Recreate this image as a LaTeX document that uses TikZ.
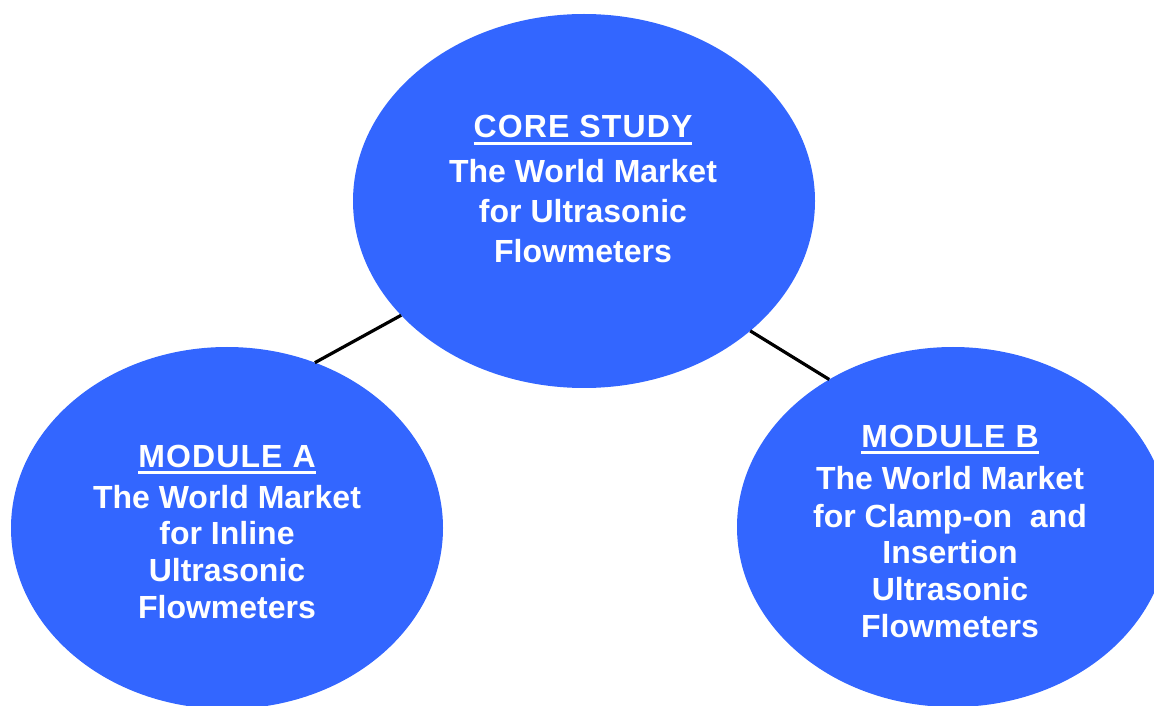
\documentclass[tikz,border=0pt]{standalone}
\usepackage{fontspec}
\setmainfont{Liberation Sans}
\usetikzlibrary{shapes.geometric}
\definecolor{bubble}{HTML}{3366FF}
\newcommand\hdrline[1]{\setbox0\hbox{\addfontfeature{LetterSpace=3.5}#1}\rlap{\raisebox{-6.6pt}{\rule{\wd0}{2.3pt}}}\box0}
\begin{document}
\begin{tikzpicture}[x=1pt,y=1pt,
  bubble/.style={ellipse, fill=bubble, draw=none, inner sep=0pt, outer sep=0pt},
  txt/.style={anchor=base, text=white, inner sep=0pt, font=\fontsize{32}{38}\selectfont\bfseries},
  conn/.style={draw=black, line width=3.2pt}]
\useasboundingbox (0,0) rectangle (1154,705);
\clip (0,0) rectangle (1154,705);
\node[bubble, minimum width=462pt, minimum height=374pt] (core) at (584,504) {};
\node[bubble, minimum width=432pt, minimum height=362pt] (modA) at (227,177) {};
\node[bubble, minimum width=432pt, minimum height=360pt] (modB) at (953,178) {};
\draw[conn] (core.212.3) -- (modA.62.8);
\draw[conn] (core.-38.3) -- (modB.130.6);
% core text
\node[txt] (c0) at (583,567) {\hdrline{CORE STUDY}};
\node[txt] (c1) at (583,522) {The World Market};
\node[txt] (c2) at (583,482) {for Ultrasonic};
\node[txt] (c3) at (583,442) {Flowmeters};
% module A text
\node[txt] (a0) at (227,238) {\hdrline{MODULE A}};
\node[txt] (a1) at (227,197) {The World Market};
\node[txt] (a2) at (227,161) {for Inline};
\node[txt] (a3) at (227,124) {Ultrasonic};
\node[txt] (a4) at (227,87) {Flowmeters};
% module B text
\node[txt] (b0) at (950,258) {\hdrline{MODULE B}};
\node[txt] (b1) at (950,216) {The World Market};
\node[txt] (b2) at (950,178) {for Clamp-on~ and};
\node[txt] (b3) at (950,142) {Insertion};
\node[txt] (b4) at (950,105) {Ultrasonic};
\node[txt] (b5) at (950,68) {Flowmeters};
\end{tikzpicture}
\end{document}
